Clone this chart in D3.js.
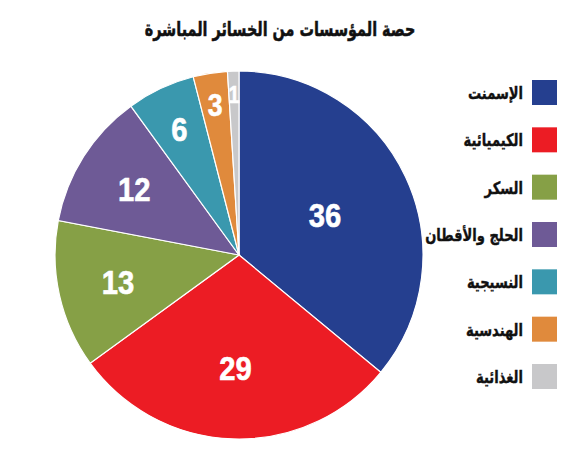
<!DOCTYPE html>
<html>
<head>
<meta charset="utf-8">
<script src="https://cdn.jsdelivr.net/npm/d3@7"></script>
<style>
  html, body { margin: 0; padding: 0; background: #fff; }
  svg { display: block; }
</style>
</head>
<body>
<div id="chart"></div>
<script>
// Pie - share of direct losses by sector
const categories = ['الإسمنت', 'الكيميائية', 'السكر', 'الحلج والأقطان', 'النسيجية', 'الهندسية', 'الغذائية'];
const values = [36, 29, 13, 12, 6, 3, 1];
const colors = ['#253f8f', '#ec1c24', '#86a046', '#6e5a96', '#3a98ae', '#e08a3c', '#c8c8ca'];
const title = 'حصة المؤسسات من الخسائر المباشرة';

const width = 570, height = 462;
const cx = 239, cy = 255, radius = 184;
const arabicFont = '"DejaVu Sans", sans-serif';

const svg = d3.select('#chart').append('svg')
  .attr('width', width)
  .attr('height', height)
  .attr('viewBox', [0, 0, width, height]);

// title, squeezed a bit to look like the condensed original
svg.append('g')
  .attr('transform', 'translate(280,36) scale(0.72,1)')
  .append('text')
  .attr('text-anchor', 'middle')
  .attr('direction', 'rtl')
  .attr('font-family', arabicFont)
  .attr('font-weight', 'bold')
  .attr('font-size', '20px')
  .attr('fill', '#111')
  .attr('stroke', '#111')
  .attr('stroke-width', 0.5)
  .text(title);

const data = categories.map((c, i) => ({ name: c, value: values[i], color: colors[i] }));

const pie = d3.pie().value(d => d.value).sort(null);
const arc = d3.arc().innerRadius(0).outerRadius(radius);
const arcs = pie(data);

const g = svg.append('g').attr('transform', `translate(${cx},${cy})`);

g.selectAll('path')
  .data(arcs)
  .join('path')
  .attr('d', arc)
  .attr('fill', d => d.data.color)
  .attr('stroke', '#fff')
  .attr('stroke-width', 1.2);

// label distance from centre, smaller slices pushed outward
const labelR = [95, 113, 124, 124, 140, 152, 160];
g.selectAll('g.val')
  .data(arcs)
  .join('g')
  .attr('class', 'val')
  .attr('transform', (d, i) => {
    const [x, y] = d3.arc().innerRadius(labelR[i]).outerRadius(labelR[i]).centroid(d);
    return `translate(${x},${y}) scale(0.86,1)`;
  })
  .append('text')
  .attr('text-anchor', 'middle')
  .attr('dy', '0.36em')
  .attr('font-family', '"Liberation Sans", Arial, sans-serif')
  .attr('font-weight', 'bold')
  .attr('font-size', d => d.data.value < 2 ? '23px' : d.data.value < 5 ? '31px' : '34px')
  .attr('fill', '#fff')
  .attr('stroke', '#fff')
  .attr('stroke-width', 0.6)
  .text(d => d.data.value);

// Legend
const y = d3.scalePoint().domain(categories).range([80, 364]);
const legend = svg.append('g')
  .selectAll('g')
  .data(data)
  .join('g')
  .attr('transform', d => `translate(532,${y(d.name)})`);

legend.append('rect')
  .attr('width', 25)
  .attr('height', 25)
  .attr('fill', d => d.color);

legend.append('g')
  .attr('transform', 'translate(-9,13) scale(0.77,1)')
  .append('text')
  .attr('dy', '0.35em')
  .attr('text-anchor', 'start')
  .attr('direction', 'rtl')
  .attr('font-family', arabicFont)
  .attr('font-weight', 'bold')
  .attr('font-size', '17px')
  .attr('fill', '#111')
  .attr('stroke', '#111')
  .attr('stroke-width', 0.4)
  .text(d => d.name);
</script>
</body>
</html>
